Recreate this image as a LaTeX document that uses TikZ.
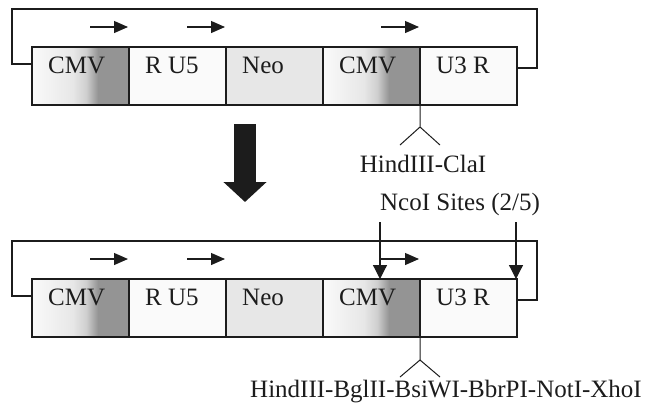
\documentclass[tikz,border=0pt]{standalone}
\usepackage{fontspec}
\setmainfont{Liberation Serif}
\usetikzlibrary{arrows.meta, positioning, calc}
\definecolor{inkblack}{RGB}{28,28,28}
\definecolor{neogray}{RGB}{231,231,231}
\definecolor{boxwhite}{RGB}{250,250,250}
\definecolor{cmvdark}{RGB}{148,148,148}
% light on the left, dark band on the right third
\pgfdeclarehorizontalshading{cmvshade}{100bp}{%
  color(0bp)=(boxwhite); color(25bp)=(boxwhite); color(46bp)=(neogray);
  color(53bp)=(cmvdark!45!white); color(59bp)=(cmvdark); color(75bp)=(cmvdark); color(100bp)=(cmvdark)}

\begin{document}
\begin{tikzpicture}[x=1pt, y=-1pt, font=\fontsize{25}{30}\selectfont,
    seg/.style={draw=inkblack, line width=1.3pt, minimum width=97pt, minimum height=58pt, inner sep=0pt, outer sep=0pt},
    cmvseg/.style={seg, shade, shading=cmvshade},
    plainseg/.style={seg, fill=boxwhite},
    neoseg/.style={seg, fill=neogray},
    segtext/.style={anchor=base west, inner sep=0pt, text=inkblack},
    loopline/.style={draw=inkblack, line width=1.3pt},
    promoter/.style={draw=inkblack, line width=1.2pt, -{Triangle[length=14pt, width=12pt]}},
    ncoarrow/.style={draw=inkblack, line width=1.2pt, -{Triangle[length=14pt, width=14pt]}},
    cutline/.style={draw=inkblack, line width=1pt},
    sitelabel/.style={anchor=base, inner sep=0pt, text=inkblack},
    flowarrow/.style={draw=inkblack, line width=22pt, -{Triangle[length=20pt, width=42pt]}}]
  \useasboundingbox (0,0) rectangle (648,408);

  % the two constructs
  \foreach \r/\y in {a/47, b/279}{
    \node[cmvseg, anchor=north west] (cmv1\r) at (32,\y) {};
    \node[plainseg, right=0pt of cmv1\r] (ru5\r) {};
    \node[neoseg, right=0pt of ru5\r] (neo\r) {};
    \node[cmvseg, right=0pt of neo\r] (cmv2\r) {};
    \node[plainseg, right=0pt of cmv2\r] (u3r\r) {};
    \node[segtext] (cmv1\r-txt) at ([shift={(16,26)}]cmv1\r.north west) {CMV};
    \node[segtext] (ru5\r-txt) at ([shift={(16,26)}]ru5\r.north west) {R U5};
    \node[segtext] (neo\r-txt) at ([shift={(16,26)}]neo\r.north west) {Neo};
    \node[segtext] (cmv2\r-txt) at ([shift={(16,26)}]cmv2\r.north west) {CMV};
    \node[segtext] (u3r\r-txt) at ([shift={(16,26)}]u3r\r.north west) {U3 R};
    % circular backbone
    \draw[loopline] ($(cmv1\r.west)+(0,-12)$) -| ($(cmv1\r.north west)+(-20,-38)$)
      -| ($(u3r\r.east)+(20,-8)$) -- ($(u3r\r.east)+(0,-8)$);
    % transcription arrows
    \draw[promoter] ($(cmv1\r.north east)+(-39,-20)$) -- ($(cmv1\r.north east)+(-1,-20)$);
    \draw[promoter] ($(ru5\r.north east)+(-39,-20)$) -- ($(ru5\r.north east)+(-1,-20)$);
    \draw[promoter] ($(cmv2\r.north east)+(-39,-20)$) -- ($(cmv2\r.north east)+(-1,-20)$);
  }

  % cloning sites
  \coordinate (cuta) at ($(cmv2a.south east)+(0,22)$);
  \draw[cutline] (cmv2a.south east) -- (cuta) (cuta) -- +(-20,18) (cuta) -- +(20,18);
  \node[sitelabel] (clasite) at (423,172) {HindIII-ClaI};

  \coordinate (cutb) at ($(cmv2b.south east)+(0,23)$);
  \draw[cutline] (cmv2b.south east) -- (cutb) (cutb) -- +(-20,17) (cutb) -- +(20,17);
  \node[sitelabel] (mcsite) at (446,397) {HindIII-BglII-BsiWI-BbrPI-NotI-XhoI};

  % NcoI
  \node[sitelabel] (ncosite) at (460,210) {NcoI Sites (2/5)};
  \coordinate (nco1) at ($(cmv2b.north west)+(57,0)$);
  \coordinate (nco2) at ($(u3rb.north east)+(-1,0)$);
  \draw[ncoarrow] ($(nco1)+(0,-57)$) -- (nco1);
  \draw[ncoarrow] ($(nco2)+(0,-57)$) -- (nco2);

  % big arrow between the constructs
  \coordinate (flowstart) at (245,124);
  \coordinate (flowend) at (245,202);
  \draw[flowarrow] (flowstart) -- (flowend);
\end{tikzpicture}
\end{document}
